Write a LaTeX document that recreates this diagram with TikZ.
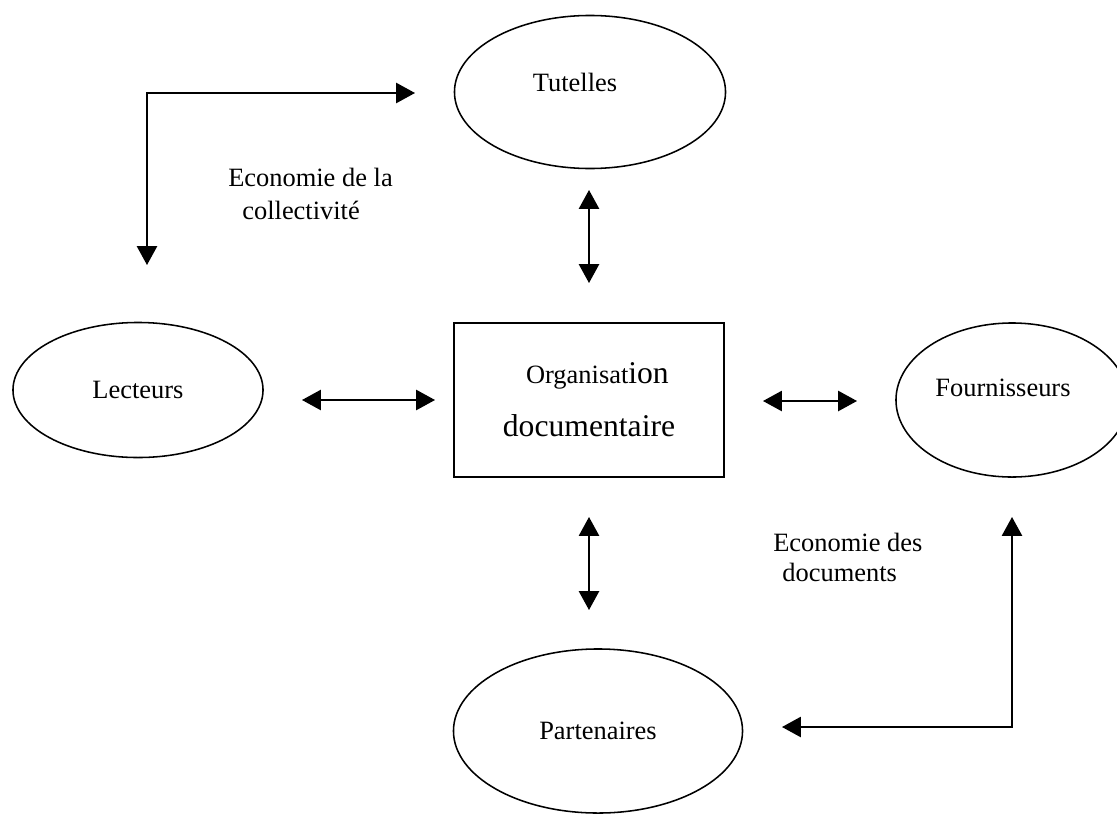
\documentclass[tikz,border=0pt]{standalone}
\usepackage{fontspec}
\setmainfont{Liberation Serif}
\usetikzlibrary{shapes.geometric}
\usetikzlibrary{arrows.meta}
\usetikzlibrary{positioning}

\tikzset{
  actor/.style={ellipse, draw=black, line width=1.1pt, inner sep=0pt},
  link/.style={black, line width=1.1pt, {Triangle[length=13.5pt,width=14.5pt]}-{Triangle[length=13.5pt,width=14.5pt]}},
  eco/.style={anchor=west, align=left, inner sep=0pt}
}

\begin{document}
\begin{tikzpicture}[x=0.025cm, y=-0.025cm, font=\fontsize{18.8pt}{23.5pt}\selectfont]

\useasboundingbox (0,0) rectangle (1117,816);

%\draw[step=100, gray, very thin, dotted] (0,0) grid (1117,816);

\node at (590,92) [actor, minimum width=6.775cm, minimum height=3.825cm] (tutelles) {};
\node at (575,82) (tutelles-txt) {Tutelles};

\node at (138,390) [actor, minimum width=6.25cm, minimum height=3.375cm] (lecteurs) {Lecteurs};

\node at (1012,400) [actor, minimum width=5.8cm, minimum height=3.85cm] (fournisseurs) {};
\node at (1003,388) (fournisseurs-txt) {Fournisseurs};

\node at (598,731) [actor, minimum width=7.225cm, minimum height=4.1cm] (partenaires) {Partenaires};

\node at (589,400) [rectangle, draw=black, line width=1.1pt, minimum width=6.75cm, minimum height=3.85cm, align=center, font=\fontsize{22.5pt}{37.7pt}\selectfont] (orga)
		{\hspace*{12pt}{\fontsize{18.8pt}{23.5pt}\selectfont Organisat}ion\\ documentaire};

\node at (228,193.5) [eco] (eco-coll) {Economie de la\\ \hspace*{10pt}collectivité};
\node at (773,557) [eco, font=\fontsize{18.8pt}{21.3pt}\selectfont] (eco-doc) {Economie des\\ \hspace*{6.5pt}documents};

\coordinate (t1) at (589,190);
\coordinate (t2) at (589,283);
\coordinate (b1) at (589,517);
\coordinate (b2) at (589,610);
\coordinate (l1) at (302,400);
\coordinate (l2) at (435,400);
\coordinate (r1) at (763,401);
\coordinate (r2) at (857,401);
\coordinate (lc1) at (147,265);
\coordinate (lc2) at (415,93);
\coordinate (fc1) at (1012,517);
\coordinate (fc2) at (782,727);

\draw[link] (t1) -- (t2);
\draw[link] (b1) -- (b2);
\draw[link] (l1) -- (l2);
\draw[link] (r1) -- (r2);

\draw[link] (lc1) |- (lc2);
\draw[link] (fc1) |- (fc2);

\end{tikzpicture}
\end{document}
